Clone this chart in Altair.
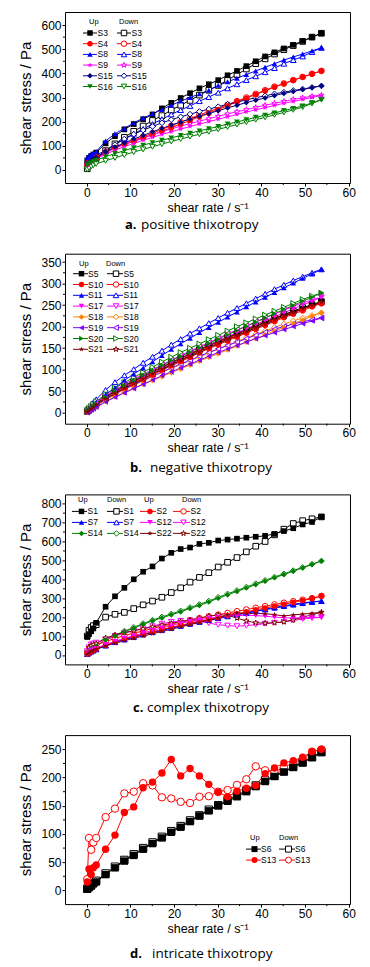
import altair as alt
import pandas as pd

# ---------------- data ----------------
X = [0.1, 0.5, 1.0, 1.5, 2.15, 4.3, 6.45, 8.6, 10.75, 12.9, 15.05, 17.2, 19.35, 21.5,
     23.65, 25.8, 27.95, 30.1, 32.25, 34.4, 36.55, 38.7, 40.85, 43.0, 45.15, 47.3,
     49.45, 51.6, 53.75]

A_SERIES = ["S3", "S4", "S8", "S9", "S15", "S16"]
A_UP = {
    "S3": [40, 50, 58, 64, 72, 110, 140, 168, 190, 210, 230, 255, 278, 298, 318, 338, 355, 372, 392, 410, 430, 450, 470, 487, 503, 518, 534, 550, 566],
    "S4": [25, 35, 42, 48, 55, 75, 92, 106, 118, 132, 145, 160, 175, 190, 205, 220, 235, 250, 266, 282, 297, 312, 328, 343, 357, 371, 385, 398, 410],
    "S8": [50, 58, 64, 70, 76, 120, 150, 172, 195, 215, 232, 250, 268, 285, 300, 315, 330, 350, 365, 380, 395, 410, 425, 440, 455, 468, 480, 493, 506],
    "S9": [20, 28, 35, 40, 46, 65, 82, 97, 110, 123, 135, 147, 158, 169, 180, 190, 200, 210, 220, 230, 240, 249, 258, 267, 276, 284, 292, 300, 308],
    "S15": [25, 30, 38, 45, 52, 75, 95, 112, 128, 143, 158, 172, 186, 198, 211, 223, 234, 245, 257, 268, 279, 289, 298, 308, 317, 325, 333, 341, 348],
    "S16": [20, 25, 30, 35, 40, 55, 68, 80, 92, 103, 113, 123, 133, 143, 152, 162, 171, 180, 190, 199, 208, 218, 227, 236, 246, 255, 265, 278, 291],
}
A_DOWN = {
    "S3": [5, 20, 30, 40, 50, 80, 108, 135, 160, 182, 205, 225, 248, 268, 288, 310, 330, 350, 372, 395, 418, 440, 460, 480, 498, 515, 532, 550, 566],
    "S4": [20, 30, 38, 45, 52, 72, 92, 108, 122, 138, 152, 168, 183, 198, 213, 228, 242, 255, 270, 285, 300, 315, 330, 345, 358, 372, 385, 398, 410],
    "S8": [40, 45, 50, 55, 62, 80, 105, 128, 150, 170, 190, 210, 230, 248, 265, 285, 302, 320, 338, 355, 372, 388, 405, 422, 440, 455, 470, 488, 506],
    "S9": [15, 25, 33, 40, 47, 70, 90, 106, 120, 133, 146, 158, 170, 181, 192, 202, 212, 222, 232, 241, 250, 259, 268, 276, 284, 292, 299, 305, 310],
    "S15": [10, 20, 30, 40, 50, 78, 105, 128, 148, 165, 180, 195, 208, 220, 231, 242, 252, 262, 272, 281, 290, 299, 307, 315, 322, 329, 335, 342, 348],
    "S16": [2, 8, 15, 20, 25, 38, 50, 62, 74, 85, 96, 107, 118, 128, 138, 148, 158, 168, 178, 188, 198, 208, 218, 228, 238, 249, 260, 275, 291],
}

B_SERIES = ["S5", "S10", "S11", "S17", "S18", "S19", "S20", "S21"]
B_UP = {
    "S5": [2, 5, 9, 13, 18, 32, 45, 57, 68, 79, 90, 101, 112, 122, 132, 142, 152, 161, 170, 179, 188, 197, 206, 215, 224, 232, 241, 250, 258],
    "S10": [1, 4, 8, 12, 17, 30, 43, 55, 66, 77, 88, 99, 109, 119, 129, 139, 149, 158, 167, 176, 185, 194, 203, 212, 221, 229, 237, 246, 254],
    "S11": [3, 8, 13, 18, 24, 42, 58, 75, 90, 104, 118, 133, 147, 160, 173, 186, 198, 210, 222, 234, 246, 257, 268, 279, 290, 301, 312, 322, 333],
    "S17": [2, 6, 10, 14, 19, 34, 48, 60, 72, 83, 94, 105, 116, 127, 137, 147, 157, 167, 177, 186, 195, 205, 214, 223, 232, 241, 250, 259, 268],
    "S18": [1, 3, 6, 10, 14, 26, 37, 47, 57, 66, 75, 84, 93, 102, 111, 120, 129, 137, 146, 155, 164, 172, 181, 190, 198, 207, 215, 224, 232],
    "S19": [0, 3, 6, 9, 13, 25, 36, 46, 56, 66, 76, 86, 95, 104, 113, 122, 131, 140, 148, 156, 164, 172, 179, 186, 193, 200, 207, 213, 220],
    "S20": [3, 7, 11, 15, 20, 36, 50, 63, 75, 87, 98, 110, 121, 131, 141, 151, 161, 171, 181, 191, 201, 210, 220, 230, 240, 249, 259, 268, 278],
    "S21": [2, 5, 9, 13, 18, 32, 45, 57, 68, 79, 90, 101, 111, 121, 131, 141, 151, 161, 170, 179, 188, 197, 206, 215, 224, 232, 241, 249, 257],
}
B_DOWN = {
    "S5": [4, 8, 12, 16, 21, 36, 50, 62, 73, 84, 95, 106, 117, 127, 137, 147, 157, 166, 175, 184, 193, 202, 211, 220, 228, 236, 244, 251, 258],
    "S10": [3, 7, 11, 15, 20, 34, 48, 60, 71, 82, 93, 104, 115, 125, 135, 145, 155, 164, 173, 182, 191, 200, 209, 218, 226, 234, 241, 248, 254],
    "S11": [6, 12, 18, 24, 31, 53, 71, 87, 101, 116, 130, 144, 158, 171, 184, 196, 208, 220, 232, 243, 254, 265, 276, 287, 297, 307, 316, 325, 333],
    "S17": [4, 9, 13, 17, 23, 39, 53, 66, 78, 89, 100, 111, 122, 133, 143, 153, 163, 173, 183, 192, 201, 211, 220, 229, 238, 247, 255, 262, 268],
    "S18": [3, 6, 10, 14, 18, 31, 43, 54, 64, 74, 84, 94, 103, 112, 121, 130, 139, 148, 157, 165, 174, 182, 190, 198, 206, 213, 220, 226, 232],
    "S19": [2, 6, 10, 14, 18, 32, 44, 55, 65, 75, 85, 95, 104, 113, 122, 131, 140, 148, 156, 164, 172, 180, 187, 194, 200, 206, 211, 216, 220],
    "S20": [5, 10, 15, 20, 26, 43, 57, 70, 82, 94, 106, 118, 129, 140, 150, 160, 170, 180, 190, 200, 209, 218, 227, 236, 245, 254, 263, 271, 278],
    "S21": [4, 8, 12, 16, 21, 36, 50, 62, 73, 84, 95, 106, 116, 126, 136, 146, 156, 165, 174, 183, 192, 201, 210, 219, 227, 235, 242, 250, 257],
}

C_SERIES_1 = ["S1", "S7", "S14"]
C_SERIES_2 = ["S2", "S12", "S22"]
C_UP = {
    "S1": [95, 110, 125, 140, 170, 255, 310, 355, 400, 440, 468, 510, 540, 560, 568, 587, 593, 605, 610, 615, 620, 625, 630, 640, 655, 670, 690, 703, 730],
    "S7": [3, 10, 16, 22, 28, 48, 65, 80, 93, 106, 118, 130, 141, 152, 162, 172, 182, 192, 202, 212, 221, 230, 239, 248, 256, 264, 272, 279, 285],
    "S14": [10, 20, 30, 38, 45, 78, 100, 122, 142, 162, 180, 196, 212, 228, 246, 262, 280, 300, 318, 336, 354, 372, 390, 408, 425, 443, 460, 478, 497],
    "S2": [5, 12, 18, 25, 32, 52, 70, 85, 98, 110, 122, 134, 146, 157, 168, 178, 188, 198, 208, 218, 228, 238, 248, 258, 268, 278, 288, 298, 312],
    "S12": [5, 15, 25, 30, 35, 55, 72, 88, 102, 116, 130, 143, 155, 167, 177, 186, 194, 200, 205, 208, 210, 208, 205, 200, 197, 195, 197, 198, 200],
    "S22": [5, 12, 20, 26, 32, 48, 62, 75, 88, 100, 112, 124, 136, 148, 160, 172, 184, 195, 212, 222, 218, 220, 218, 213, 206, 212, 216, 220, 226],
}
C_DOWN = {
    "S1": [100, 130, 145, 155, 160, 200, 215, 225, 245, 265, 285, 305, 330, 355, 385, 410, 435, 465, 490, 515, 545, 575, 600, 635, 665, 695, 710, 720, 730],
    "S7": [5, 12, 18, 24, 30, 50, 68, 83, 96, 109, 121, 133, 144, 155, 166, 176, 186, 196, 206, 215, 224, 233, 242, 251, 260, 268, 275, 281, 285],
    "S14": [5, 15, 25, 35, 45, 82, 105, 126, 146, 166, 184, 201, 217, 233, 251, 267, 285, 305, 323, 341, 359, 377, 395, 412, 429, 446, 463, 480, 497],
    "S2": [15, 30, 40, 45, 55, 70, 88, 102, 115, 127, 140, 152, 163, 174, 184, 194, 204, 213, 222, 231, 240, 249, 258, 267, 276, 284, 292, 300, 312],
    "S12": [20, 40, 55, 60, 65, 80, 100, 115, 128, 140, 152, 165, 175, 180, 182, 178, 168, 160, 155, 152, 155, 160, 165, 170, 175, 182, 190, 195, 200],
    "S22": [15, 40, 50, 55, 60, 90, 105, 118, 128, 138, 148, 158, 167, 176, 185, 195, 205, 212, 210, 195, 180, 170, 168, 170, 175, 185, 200, 212, 226],
}

D_SERIES = ["S6", "S13"]
D_UP = {
    "S6": [2, 5, 8, 12, 15, 28, 40, 52, 62, 73, 83, 93, 103, 112, 122, 132, 141, 150, 158, 166, 175, 184, 193, 202, 210, 218, 226, 236, 245],
    "S13": [15, 38, 28, 40, 45, 73, 98, 138, 148, 182, 192, 208, 232, 203, 216, 203, 188, 174, 166, 176, 181, 186, 207, 217, 226, 230, 236, 246, 250],
}
D_DOWN = {
    "S6": [3, 6, 9, 13, 17, 30, 42, 54, 64, 75, 85, 95, 105, 114, 124, 133, 143, 151, 160, 168, 177, 186, 195, 203, 211, 219, 227, 236, 245],
    "S13": [20, 93, 72, 85, 93, 130, 145, 172, 175, 190, 186, 165, 163, 157, 155, 166, 167, 175, 178, 187, 197, 220, 213, 210, 218, 226, 233, 246, 250],
}

X_TICKS = [0, 10, 20, 30, 40, 50, 60]
X_MINOR = [5, 15, 25, 35, 45, 55]
CAPTIONS = [("a.", "positive thixotropy"), ("b.", "negative thixotropy"),
            ("c.", "complex thixotropy"), ("d.", "intricate thixotropy")]
X_TITLE = "shear rate / s\u207b\u00b9"
Y_TITLE = "shear stress / Pa"

# ---------------- styles ----------------
STAR = ("M0,-1L0.2245,-0.309L0.9511,-0.309L0.3633,0.118L0.5878,0.809L0,0.382"
        "L-0.5878,0.809L-0.3633,0.118L-0.9511,-0.309L-0.2245,-0.309Z")
BLACK, RED, BLUE, MAG = "#000000", "#ff0000", "#0000ff", "#ff00ff"
NAVY, GREEN, ORANGE, VIOLET, WINE = "#000080", "#008000", "#ff8000", "#8000ff", "#800000"
STYLE = {
    "S1": (BLACK, "square"), "S2": (RED, "circle"), "S3": (BLACK, "square"),
    "S4": (RED, "circle"), "S5": (BLACK, "square"), "S6": (BLACK, "square"),
    "S7": (BLUE, "triangle-up"), "S8": (BLUE, "triangle-up"), "S9": (MAG, STAR),
    "S10": (RED, "circle"), "S11": (BLUE, "triangle-up"), "S12": (MAG, "triangle-down"),
    "S13": (RED, "circle"), "S14": (GREEN, "diamond"), "S15": (NAVY, "diamond"),
    "S16": (GREEN, "triangle-down"), "S17": (MAG, "triangle-down"), "S18": (ORANGE, "diamond"),
    "S19": (VIOLET, "triangle-left"), "S20": (GREEN, "triangle-right"), "S21": (WINE, STAR),
    "S22": (WINE, STAR),
}
ALL = list(STYLE)
COLOR = alt.Color("series:N", scale=alt.Scale(domain=ALL, range=[STYLE[s][0] for s in ALL]), legend=None)
SHAPE = alt.Shape("series:N", scale=alt.Scale(domain=ALL, range=[STYLE[s][1] for s in ALL]), legend=None)
FONT = "Liberation Sans"
W = 285


def long_df(series, up, down):
    rows = []
    for s in series:
        for d, src in (("Up", up), ("Down", down)):
            for xv, yv in zip(X, src[s]):
                rows.append({"x": xv, "y": yv, "series": s, "dir": d, "key": s + "-" + d})
    return pd.DataFrame(rows)


def legend_df(groups):
    rows = []
    for g, series in enumerate(groups):
        for r, s in enumerate(series):
            rows.append({"series": s, "dir": "Up", "row": r, "col": 2 * g})
            rows.append({"series": s, "dir": "Down", "row": r, "col": 2 * g + 1})
    return pd.DataFrame(rows)


def arr(v):
    return "[" + ",".join(str(a) for a in v) + "][datum.col]"


def panel(df, ldf, ydom, yticks, yminor, h, msize, lg, cap, cap_pos):
    xs = alt.Scale(domain=[-5, 60.3], nice=False, zero=False)
    ys = alt.Scale(domain=ydom, nice=False, zero=False)
    xenc = alt.X("x:Q", scale=xs, axis=alt.Axis(
        values=X_TICKS, title=X_TITLE, titlePadding=3, titleFontWeight="normal", titleFontSize=12.5))
    yenc = alt.Y("y:Q", scale=ys, axis=alt.Axis(
        values=yticks, title=Y_TITLE, titlePadding=7, titleFontWeight="normal", titleFontSize=15))
    base = alt.Chart(df)
    lines = base.mark_line(strokeWidth=1).encode(x=xenc, y=yenc, color=COLOR, detail="key:N")
    opn = base.transform_filter("datum.dir == 'Down'").mark_point(
        filled=False, fill="white", fillOpacity=1, size=msize, strokeWidth=1, opacity=1
    ).encode(x=xenc, y=yenc, color=COLOR, shape=SHAPE)
    fil = base.transform_filter("datum.dir == 'Up'").mark_point(
        filled=True, size=msize, opacity=1
    ).encode(x=xenc, y=yenc, color=COLOR, shape=SHAPE)
    xm = alt.Chart(pd.DataFrame({"x": X_MINOR})).mark_rule(color="black", strokeWidth=1).encode(
        x=xenc, y=alt.value(h), y2=alt.value(h + 2))
    ym = alt.Chart(pd.DataFrame({"y": yminor})).mark_rule(color="black", strokeWidth=1).encode(
        y=yenc, x=alt.value(0), x2=alt.value(-2))

    # legend
    lb = alt.Chart(ldf).transform_calculate(
        ly=f"{lg['y0']} + datum.row * {lg['dy']}",
        l0=arr(lg["l0"]), l1=arr(lg["l1"]), sx=arr(lg["sx"]), tx=arr(lg["tx"]),
    )
    LX = lambda f: alt.X(f, scale=None, axis=None)
    LY = alt.Y("ly:Q", scale=None, axis=None)
    lrule = lb.mark_rule(strokeWidth=1).encode(x=LX("l0:Q"), x2="l1:Q", y=LY, color=COLOR)
    lopen = lb.transform_filter("datum.dir == 'Down'").mark_point(
        filled=False, fill="white", fillOpacity=1, size=lg["ms"], strokeWidth=1, opacity=1
    ).encode(x=LX("sx:Q"), y=LY, color=COLOR, shape=SHAPE)
    lfill = lb.transform_filter("datum.dir == 'Up'").mark_point(
        filled=True, size=lg["ms"], opacity=1
    ).encode(x=LX("sx:Q"), y=LY, color=COLOR, shape=SHAPE)
    ltext = lb.mark_text(align="left", baseline="middle", font=FONT, fontSize=lg["fs"], color="black").encode(
        x=LX("tx:Q"), y=LY, text="series:N")
    hdf = pd.DataFrame({"h": lg["heads"], "col": list(range(len(lg["heads"])))})
    lhead = alt.Chart(hdf).transform_calculate(hx=arr(lg["hx"]), hy=str(lg["hy"])).mark_text(
        align="left", baseline="middle", font=FONT, fontSize=lg["hfs"], color="black"
    ).encode(x=LX("hx:Q"), y=alt.Y("hy:Q", scale=None, axis=None), text="h:N")

    c1 = alt.Chart(pd.DataFrame({"t": [cap[0]]})).mark_text(
        align="left", baseline="middle", font="Open Sans", fontWeight="bold", fontSize=13, color="black"
    ).encode(x=alt.value(cap_pos[0]), y=alt.value(h + cap_pos[2]), text="t:N")
    c2 = alt.Chart(pd.DataFrame({"t": [cap[1]]})).mark_text(
        align="left", baseline="middle", font="Open Sans", fontSize=cap_pos[3], color="black"
    ).encode(x=alt.value(cap_pos[1]), y=alt.value(h + cap_pos[2]), text="t:N")

    return alt.layer(lines, opn, fil, xm, ym, lrule, lopen, lfill, ltext, lhead, c1, c2).properties(
        width=W, height=h)


LEG_A = dict(y0=21, dy=10.7, l0=[18, 52], l1=[32, 66], sx=[25, 59], tx=[32.5, 66.5],
             heads=["Up", "Down"], hx=[24, 54], hy=10, fs=8.5, hfs=7.5, ms=30)
LEG_B = dict(y0=20, dy=10.8, l0=[8, 42], l1=[23, 58], sx=[16.5, 51], tx=[23, 58.5],
             heads=["Up", "Down"], hx=[14, 41], hy=10, fs=8.5, hfs=7.5, ms=30)
LEG_C = dict(y0=17, dy=11, l0=[7, 42, 75, 108], l1=[22, 58, 91, 125], sx=[16.5, 51.5, 85, 118.5],
             tx=[22.5, 58.5, 91.5, 125.5], heads=["Up", "Down", "Up", "Down"], hx=[13, 42, 79, 117],
             hy=6, fs=8.5, hfs=7.5, ms=30)
LEG_D = dict(y0=114, dy=11, l0=[181, 214], l1=[196, 230], sx=[189.5, 223.5], tx=[196, 230],
             heads=["Up", "Down"], hx=[185, 214], hy=103, fs=8.5, hfs=7.5, ms=36)

pa = panel(long_df(A_SERIES, A_UP, A_DOWN), legend_df([A_SERIES]), [-54, 654],
           [0, 100, 200, 300, 400, 500, 600], [50, 150, 250, 350, 450, 550], 171, 32,
           LEG_A, CAPTIONS[0], (60, 76, 42, 13.5))
pb = panel(long_df(B_SERIES, B_UP, B_DOWN), legend_df([B_SERIES]), [-25.5, 369.3],
           [0, 50, 100, 150, 200, 250, 300, 350], [25, 75, 125, 175, 225, 275, 325], 170, 32,
           LEG_B, CAPTIONS[1], (65, 85, 44, 13.5))
pc = panel(long_df(C_SERIES_1 + C_SERIES_2, C_UP, C_DOWN), legend_df([C_SERIES_1, C_SERIES_2]),
           [-50, 849], [0, 100, 200, 300, 400, 500, 600, 700, 800],
           [50, 150, 250, 350, 450, 550, 650, 750], 170, 32,
           LEG_C, CAPTIONS[2], (68, 82, 44, 13.5))
pd_ = panel(long_df(D_SERIES, D_UP, D_DOWN), legend_df([D_SERIES]), [-24.3, 275.3],
            [0, 50, 100, 150, 200, 250], [25, 75, 125, 175, 225], 169, 55,
            LEG_D, CAPTIONS[3], (65, 87, 49.7, 13.5))

chart = alt.vconcat(pa, pb, pc, pd_, spacing=70.7, bounds="flush").properties(
    padding={"left": 10, "top": 3, "right": 0, "bottom": 0}
).configure_view(stroke="black", strokeWidth=1).configure_axis(
    labelFont=FONT, labelFontSize=12, labelColor="black", labelPadding=1,
    tickColor="black", tickSize=3, tickWidth=1, domain=False, grid=False,
    titleFont=FONT, titleFontWeight="normal", titleColor="black"
)

chart.save("out.html", embed_options={"renderer": "svg", "actions": False})
